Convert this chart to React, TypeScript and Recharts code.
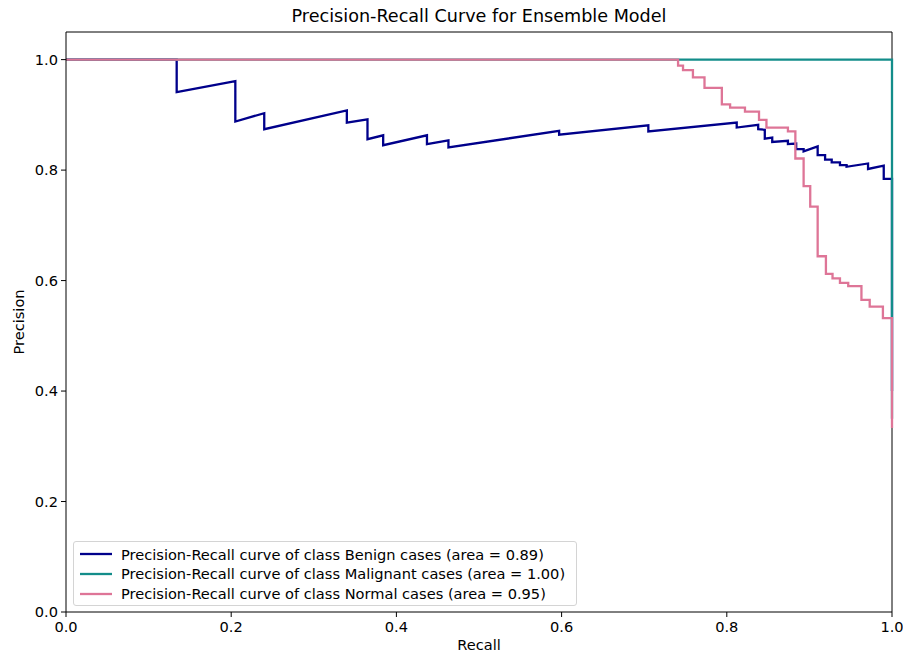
import React from 'react';
import { LineChart, Line, XAxis, YAxis, ReferenceLine } from 'recharts';

const FONT = '"DejaVu Sans", sans-serif';

// recall / precision
const benignRecall = [
  0, 0.134, 0.134, 0.205, 0.205, 0.24, 0.24, 0.34, 0.34, 0.365, 0.365, 0.384, 0.384,
  0.437, 0.437, 0.463, 0.463, 0.597, 0.597, 0.705, 0.705, 0.812, 0.812, 0.838, 0.838,
  0.846, 0.846, 0.855, 0.855, 0.874, 0.874, 0.884, 0.884, 0.893, 0.893, 0.91, 0.91,
  0.919, 0.919, 0.927, 0.927, 0.937, 0.937, 0.945, 0.945, 0.971, 0.971, 0.99, 0.99, 1.0, 1.0,
];
const benignPrecision = [
  1, 1, 0.941, 0.961, 0.888, 0.903, 0.874, 0.908, 0.886, 0.892, 0.856, 0.863, 0.845,
  0.863, 0.847, 0.854, 0.841, 0.871, 0.864, 0.881, 0.87, 0.886, 0.877, 0.882, 0.874,
  0.873, 0.857, 0.859, 0.851, 0.853, 0.847, 0.848, 0.838, 0.838, 0.834, 0.843, 0.827,
  0.827, 0.819, 0.819, 0.814, 0.814, 0.809, 0.809, 0.806, 0.812, 0.802, 0.808, 0.784, 0.784, 0.4,
];

const malignantRecall = [0, 1.0, 1.0];
const malignantPrecision = [1, 1, 0.35];

// normal cases: stair steps (drawn with stepAfter)
const normalRecall = [
  0, 0.741, 0.747, 0.759, 0.773, 0.794, 0.804, 0.822, 0.839, 0.848, 0.874, 0.883,
  0.893, 0.901, 0.91, 0.92, 0.928, 0.937, 0.947, 0.963, 0.973, 0.989, 1.0,
];
const normalPrecision = [
  1.0, 0.989, 0.981, 0.968, 0.949, 0.919, 0.913, 0.906, 0.891, 0.877, 0.87, 0.821,
  0.771, 0.734, 0.644, 0.612, 0.604, 0.596, 0.59, 0.565, 0.553, 0.532, 0.333,
];

const recallTicks = [0, 0.2, 0.4, 0.6, 0.8, 1.0];
const precisionTicks = [0, 0.2, 0.4, 0.6, 0.8, 1.0];

const series = [
  { name: 'Precision-Recall curve of class Benign cases (area = 0.89)', color: '#00008b' },
  { name: 'Precision-Recall curve of class Malignant cases (area = 1.00)', color: '#138d8a' },
  { name: 'Precision-Recall curve of class Normal cases (area = 0.95)', color: '#de7597' },
];

const zip = (r: number[], p: number[]) => r.map((x, i) => ({ recall: x, precision: p[i] }));

const benignData = zip(benignRecall, benignPrecision);
const malignantData = zip(malignantRecall, malignantPrecision);
const normalData = zip(normalRecall, normalPrecision);

const FS = 14.6;
const tickStyle = { fill: '#000', fontSize: FS, fontFamily: FONT };
const fmt = (v: number) => v.toFixed(1);

export default function App() {
  return (
    <div style={{ position: 'absolute', left: 0, top: 0, width: 903, height: 653, background: '#fff', fontFamily: FONT }}>
      <LineChart width={903} height={653} margin={{ top: 32, right: 11, left: 0, bottom: 0 }}>
        <XAxis
          type="number"
          dataKey="recall"
          domain={[0, 1]}
          ticks={recallTicks}
          tickFormatter={fmt}
          allowDuplicatedCategory={false}
          height={41}
          tickSize={5}
          tickMargin={5}
          tick={tickStyle}
          stroke="#000"
        />
        <YAxis
          type="number"
          dataKey="precision"
          domain={[0, 1.05]}
          ticks={precisionTicks}
          tickFormatter={fmt}
          width={66}
          tickSize={5}
          tickMargin={3}
          tick={tickStyle}
          stroke="#000"
        />
        <ReferenceLine y={1.05} stroke="#000" strokeWidth={1} />
        <ReferenceLine x={1} stroke="#000" strokeWidth={1} />
        <Line data={benignData} dataKey="precision" type="linear" stroke={series[0].color} strokeWidth={2.3} dot={false} isAnimationActive={false} />
        <Line data={malignantData} dataKey="precision" type="linear" stroke={series[1].color} strokeWidth={2.3} dot={false} isAnimationActive={false} />
        <Line data={normalData} dataKey="precision" type="stepAfter" stroke={series[2].color} strokeWidth={2.3} dot={false} isAnimationActive={false} />
      </LineChart>

      <div style={{ position: 'absolute', left: 0, width: 958, top: 6, textAlign: 'center', fontSize: 17.6, color: '#000' }}>
        Precision-Recall Curve for Ensemble Model
      </div>
      <div style={{ position: 'absolute', left: 0, width: 958, top: 636, textAlign: 'center', fontSize: FS, color: '#000' }}>
        Recall
      </div>
      <div
        style={{
          position: 'absolute', left: 18, top: 322, fontSize: FS, color: '#000',
          transform: 'translate(-50%, -50%) rotate(-90deg)', whiteSpace: 'nowrap',
        }}
      >
        Precision
      </div>

      <div
        style={{
          position: 'absolute', left: 73, top: 541, width: 502, height: 63,
          border: '1px solid #d4d4d4', borderRadius: 3, background: 'rgba(255,255,255,0.8)',
          boxSizing: 'content-box',
        }}
      >
        {series.map((s, i) => (
          <div key={s.name} style={{ position: 'absolute', left: 5, top: 2 + i * 19.8, height: 20, display: 'flex', alignItems: 'center', whiteSpace: 'nowrap' }}>
            <svg width={34} height={4} style={{ marginRight: 8 }}>
              <line x1={1} x2={33} y1={2} y2={2} stroke={s.color} strokeWidth={2.3} />
            </svg>
            <span style={{ fontSize: FS, color: '#000' }}>{s.name}</span>
          </div>
        ))}
      </div>
    </div>
  );
}
